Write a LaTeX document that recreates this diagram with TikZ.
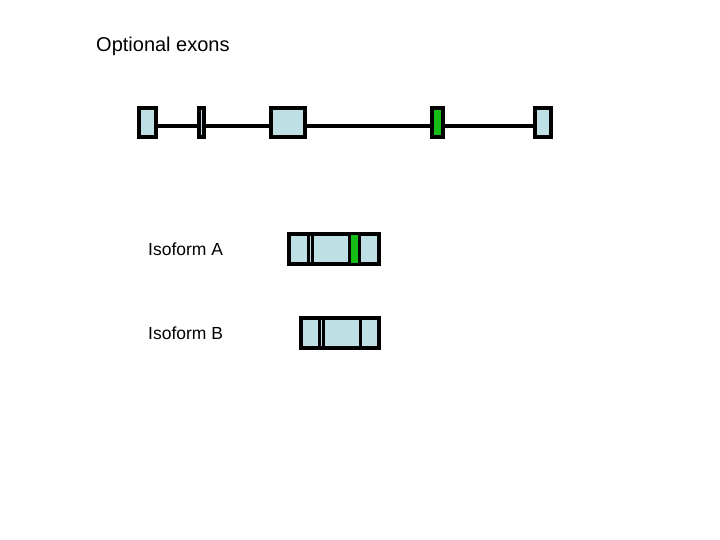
\documentclass[tikz,border=0pt]{standalone}
\usepackage{fontspec}
\setmainfont{Liberation Sans}
\begin{document}
\begin{tikzpicture}[x=1pt,y=-1pt,
  ex/.style={draw=black,line width=3.2pt,fill=lb},
  gx/.style={draw=black,line width=3.2pt,fill=gr},
  lbl/.style={anchor=west,inner sep=0pt}]
\definecolor{lb}{RGB}{190,224,228}
\definecolor{gr}{RGB}{20,190,20}
\useasboundingbox (0,0) rectangle (720,540);
\node[lbl,font=\fontsize{20}{24}\selectfont] (t) at (96,46) {Optional exons};
\draw[line width=4pt] (157,126) -- (534,126);
\node[ex,minimum width=17pt,minimum height=29pt,inner sep=0pt] (e1) at (147.5,122.5) {};
\node[ex,minimum width=5pt,minimum height=29pt,inner sep=0pt] (e2) at (201.5,122.5) {};
\node[ex,minimum width=34pt,minimum height=29pt,inner sep=0pt] (e3) at (288,122.5) {};
\node[gx,minimum width=11pt,minimum height=29pt,inner sep=0pt] (e4) at (437.5,122.5) {};
\node[ex,minimum width=16pt,minimum height=29pt,inner sep=0pt] (e5) at (543,122.5) {};
\node[lbl,font=\fontsize{17.5}{21}\selectfont] (la) at (148,249) {Isoform A};
\node[lbl,font=\fontsize{17.5}{21}\selectfont] (lbb) at (148,333) {Isoform B};
% Isoform A
\draw[ex] (289,234) rectangle (379,264);
\fill[gr] (349,235) rectangle (359,263);
\draw[line width=3pt] (308,234) -- (308,264);
\draw[line width=3pt] (312,234) -- (312,264);
\draw[line width=3pt] (349,234) -- (349,264);
\draw[line width=3pt] (359,234) -- (359,264);
% Isoform B
\draw[ex] (301,318) rectangle (379,348);
\draw[line width=3pt] (319,318) -- (319,348);
\draw[line width=3pt] (323,318) -- (323,348);
\draw[line width=3pt] (360,318) -- (360,348);
\end{tikzpicture}
\end{document}
